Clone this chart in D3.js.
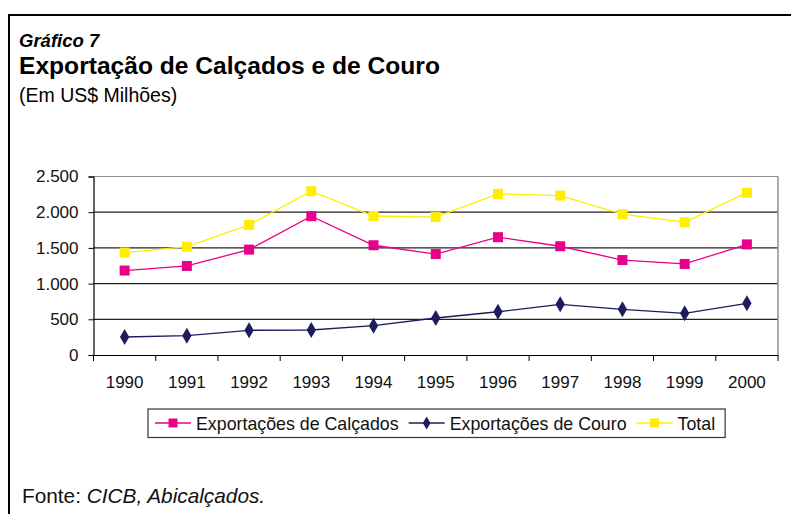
<!DOCTYPE html>
<html>
<head>
<meta charset="utf-8">
<script src="https://cdn.jsdelivr.net/npm/d3@7"></script>
<style>
  body { margin: 0; background: #fff; }
  svg { display: block; font-family: "Liberation Sans", Arial, sans-serif; }
</style>
</head>
<body>
<div id="chart"></div>
<script>
// chart data
const years = ["1990", "1991", "1992", "1993", "1994", "1995", "1996", "1997", "1998", "1999", "2000"];
const calcados = [1183, 1247, 1476, 1944, 1537, 1414, 1650, 1523, 1330, 1275, 1549];
const couro = [252, 270, 346, 350, 410, 518, 606, 710, 640, 584, 724];
const total = [1435, 1517, 1822, 2294, 1947, 1932, 2256, 2233, 1974, 1859, 2273];
const yTicks = [0, 500, 1000, 1500, 2000, 2500];

const seriesList = [
    { name: "Exportações de Calçados", values: calcados, color: "#e8008a", symbol: d3.symbolSquare, size: 100 },
    { name: "Exportações de Couro", values: couro, color: "#1c1c5e", symbol: d3.symbolDiamond, size: 75 },
    { name: "Total", values: total, color: "#ffee00", symbol: d3.symbolSquare, size: 100 }
];

const W = 791, H = 514;
const svg = d3.select("#chart").append("svg")
    .attr("width", W)
    .attr("height", H);

// outer frame (top and left)
svg.append("path")
    .attr("d", `M9,${H} V15 H${W}`)
    .attr("fill", "none")
    .attr("stroke", "#000")
    .attr("stroke-width", 2);

// titles
svg.append("text")
    .attr("x", 19).attr("y", 47)
    .attr("font-size", 18.5).attr("font-weight", "bold").attr("font-style", "italic")
    .text("Gráfico 7");
svg.append("text")
    .attr("x", 19).attr("y", 74)
    .attr("font-size", 24.6).attr("font-weight", "bold")
    .text("Exportação de Calçados e de Couro");
svg.append("text")
    .attr("x", 19).attr("y", 102)
    .attr("font-size", 19.5)
    .text("(Em US$ Milhões)");

// plot area
const plot = { left: 93.5, right: 778, top: 176.5, bottom: 355 };

const x = d3.scaleBand()
    .domain(years)
    .range([plot.left, plot.right]);

const y = d3.scaleLinear()
    .domain([0, 2500])
    .range([plot.bottom, plot.top]);

// gridlines
svg.append("g")
    .selectAll("line")
    .data(yTicks.filter(d => d > 0))
    .join("line")
    .attr("x1", plot.left).attr("x2", plot.right)
    .attr("y1", d => y(d)).attr("y2", d => y(d))
    .attr("stroke", d => d === 2500 ? "#8a9096" : "#222")
    .attr("stroke-width", 1.2);

// right border of the plot area
svg.append("line")
    .attr("x1", plot.right).attr("x2", plot.right)
    .attr("y1", plot.top).attr("y2", plot.bottom)
    .attr("stroke", "#8a9096").attr("stroke-width", 1.5);

// y axis
const yAxis = svg.append("g")
    .attr("transform", `translate(${plot.left},0)`)
    .call(d3.axisLeft(y).tickValues(yTicks).tickSize(5).tickPadding(10)
        .tickFormat(d => d3.format(",")(d).replace(/,/g, ".")));

// x axis, ticks at band edges
const xAxis = svg.append("g")
    .attr("transform", `translate(0,${plot.bottom})`)
    .call(d3.axisBottom(x).tickSize(0).tickPadding(21));

xAxis.selectAll(".edge")
    .data(years.concat(["end"]))
    .join("line")
    .attr("class", "edge")
    .attr("x1", (d, i) => plot.left + i * x.bandwidth())
    .attr("x2", (d, i) => plot.left + i * x.bandwidth())
    .attr("y1", 0).attr("y2", 6)
    .attr("stroke", "#000");

[yAxis, xAxis].forEach(a => {
    a.select(".domain").attr("stroke", "#000").attr("stroke-width", 1.2);
    a.selectAll(".tick line").attr("stroke", "#000");
    a.selectAll("text").attr("font-size", 17).attr("fill", "#111")
        .attr("font-family", "'Liberation Sans', Arial, sans-serif");
});

// lines and markers
const line = d3.line()
    .x((d, i) => x(years[i]) + x.bandwidth() / 2)
    .y(d => y(d));

const series = svg.append("g")
    .selectAll("g")
    .data([seriesList[0], seriesList[2], seriesList[1]])
    .join("g");

series.append("path")
    .attr("d", d => line(d.values))
    .attr("fill", "none")
    .attr("stroke", d => d.color)
    .attr("stroke-width", 1.3);

series.each(function (s) {
    d3.select(this).selectAll(".pt")
        .data(s.values)
        .join("path")
        .attr("class", "pt")
        .attr("transform", (d, i) => `translate(${x(years[i]) + x.bandwidth() / 2},${y(d)})`)
        .attr("d", d3.symbol().type(s.symbol).size(s.size))
        .attr("fill", s.color);
});

// legend
const legend = svg.append("g");
const legBox = legend.append("rect")
    .attr("x", 148).attr("y", 409)
    .attr("height", 28.5)
    .attr("fill", "#fff")
    .attr("stroke", "#333").attr("stroke-width", 1.2);

let lx = 155;
seriesList.forEach(s => {
    const g = legend.append("g");
    g.append("line")
        .attr("x1", lx).attr("x2", lx + 36)
        .attr("y1", 423).attr("y2", 423)
        .attr("stroke", s.color).attr("stroke-width", 1.3);
    g.append("path")
        .attr("transform", `translate(${lx + 18},423)`)
        .attr("d", d3.symbol().type(s.symbol).size(s.symbol === d3.symbolSquare ? 80 : 50))
        .attr("fill", s.color);
    const t = g.append("text")
        .attr("x", lx + 41).attr("y", 429.5)
        .attr("font-size", 17.8).attr("fill", "#111")
        .text(s.name);
    lx = lx + 41 + t.node().getComputedTextLength() + 10;
});
legBox.attr("width", lx - 148);

// source note
const fonte = svg.append("text")
    .attr("x", 22).attr("y", 503)
    .attr("font-size", 20.8).attr("fill", "#111");
fonte.append("tspan").text("Fonte: ");
fonte.append("tspan").attr("font-style", "italic").text("CICB, Abicalçados.");
</script>
</body>
</html>
